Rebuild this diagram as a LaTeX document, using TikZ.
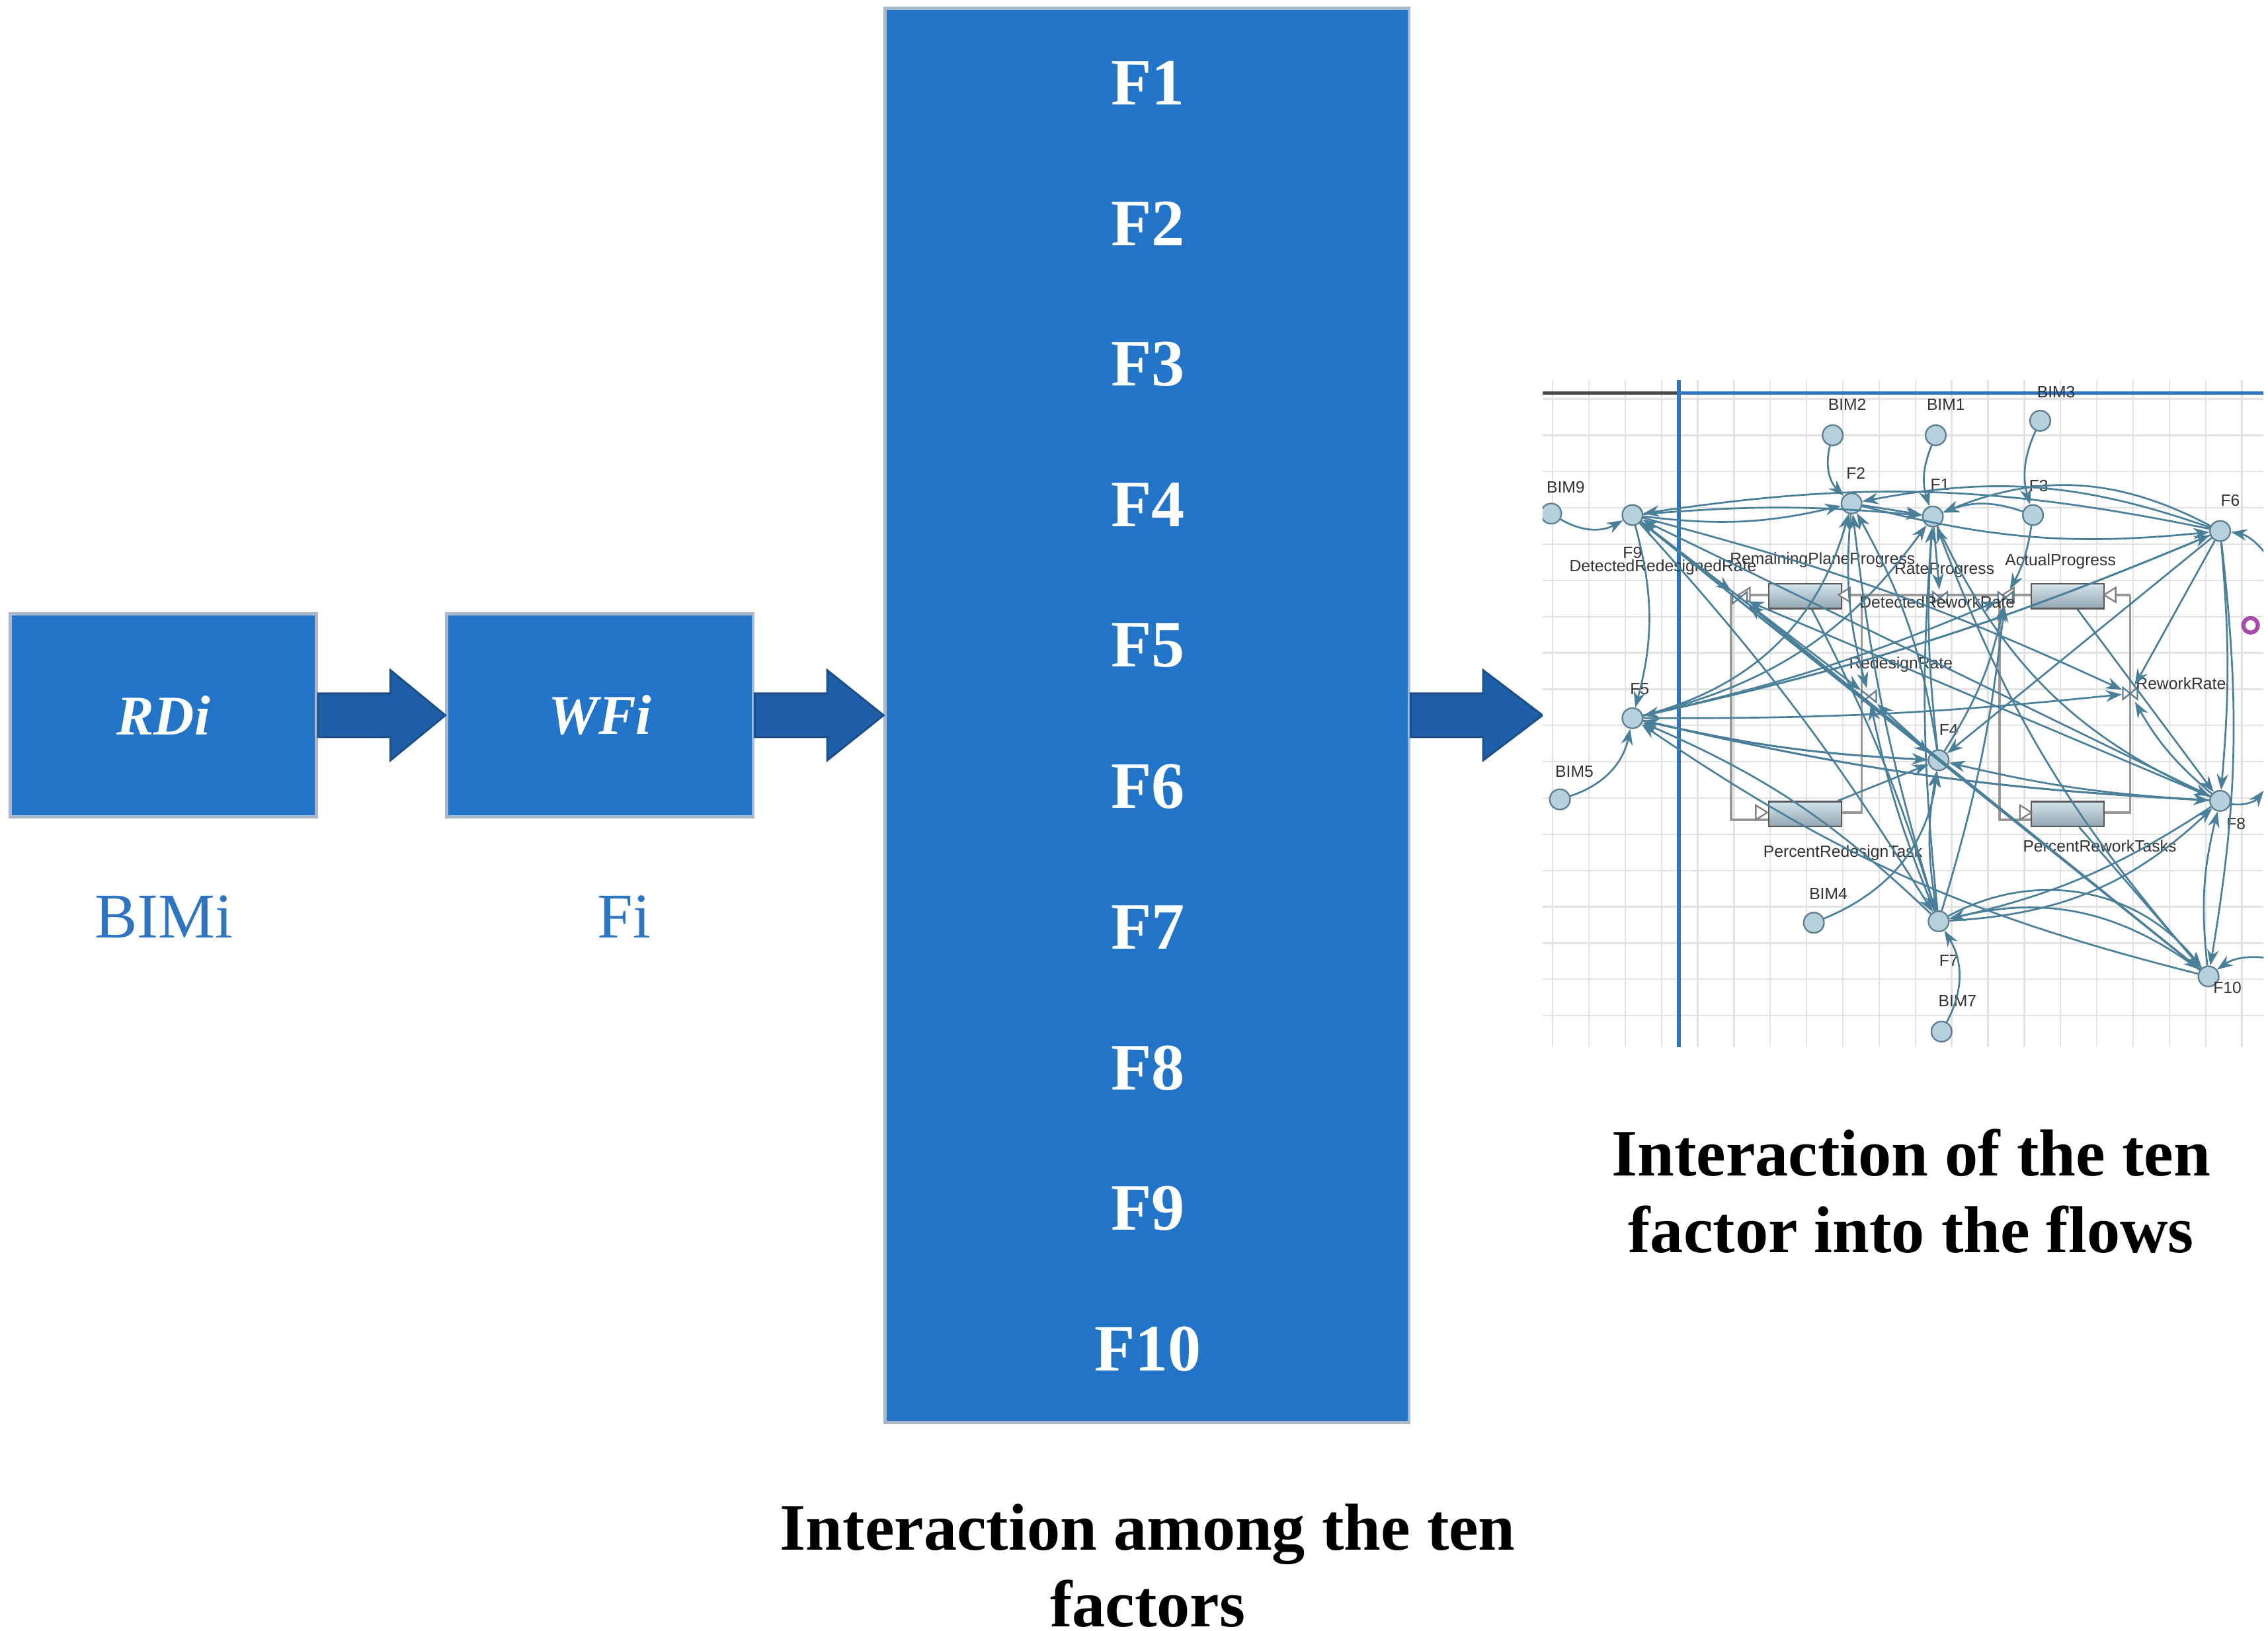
\documentclass[tikz,border=0pt]{standalone}
\usepackage{fontspec}
\setmainfont{Liberation Serif}
\setsansfont{Liberation Sans}
\usepackage{tikz}
\usetikzlibrary{calc,arrows.meta}
\definecolor{boxblue}{HTML}{2174C7}
\definecolor{boxedge}{HTML}{A8B8C8}
\definecolor{arrblue}{HTML}{1F5FA8}
\definecolor{arredge}{HTML}{1A4F8C}
\definecolor{lblblue}{HTML}{2E74C0}
\definecolor{sdline}{HTML}{4A7F99}
\definecolor{sdfill}{HTML}{B7D0DE}
\definecolor{sdedge}{HTML}{5E7E90}
\definecolor{gridc}{HTML}{E2E2E2}
\tikzset{
  bigbox/.style={draw=boxedge,fill=boxblue,line width=0.6pt,inner sep=0pt},
  ftxt/.style={text=white,font=\fontsize{13}{15}\selectfont\bfseries},
  itxt/.style={text=white,font=\fontsize{11}{13}\selectfont\bfseries\itshape},
  sub/.style={text=lblblue,font=\fontsize{12.5}{14}\selectfont},
  capt/.style={align=center,font=\fontsize{13}{16}\selectfont\bfseries},
  blockarr/.style={fill=arrblue,draw=arredge,line width=0.4pt},
  aux/.style={circle,draw=sdedge,fill=sdfill,minimum size=0.14cm,inner sep=0pt,line width=0.3pt},
  tiny/.style={font=\fontsize{3.2}{4}\selectfont\sffamily,text=black!80,inner sep=0pt},
  lk/.style={draw=sdline,line width=0.35pt,-{Stealth[length=1.1mm,width=0.8mm]}},
  stock/.style={draw=gray!70!black,top color=sdfill!60!white,bottom color=sdfill!80!black,minimum width=0.5cm,minimum height=0.17cm,inner sep=0pt,line width=0.3pt},
  pipe/.style={draw=gray!80,line width=0.5pt},
}
\begin{document}
\begin{tikzpicture}[x=0.01cm,y=-0.01cm]
\useasboundingbox (0,0) rectangle (1563,1124);
% left boxes
\node[bigbox,minimum width=2.11cm,minimum height=1.40cm] (rd) at (112.5,493) {};
\node[itxt] (rdt) at (rd.center) {RDi};
\node[bigbox,minimum width=2.11cm,minimum height=1.40cm] (wf) at (413.5,493) {};
\node[itxt] (wft) at (wf.center) {WFi};
\node[sub] (bimi) at (113,632) {BIMi};
\node[sub] (fi) at (430,632) {Fi};
% big box
\node[bigbox,minimum width=3.61cm,minimum height=9.74cm] (big) at (790.5,493) {};
\foreach \i [count=\k from 0] in {1,...,10}{
  \node[ftxt] (f\i) at (791,57+97*\k) {F\i};
}
% block arrows
\foreach \a/\b in {rd/wf,wf/big}{
  \path[blockarr] ($(\a.east)+(0,-15)$) -- ($(\a.east)+(50,-15)$) -- ($(\a.east)+(50,-31)$) -- (\b.west) -- ($(\a.east)+(50,31)$) -- ($(\a.east)+(50,15)$) -- ($(\a.east)+(0,15)$) -- cycle;
}
\coordinate (sdin) at (1063,493);
\path[blockarr] ($(big.east)+(0,-15)$) -- ($(big.east)+(50,-15)$) -- ($(big.east)+(50,-31)$) -- (sdin) -- ($(big.east)+(50,31)$) -- ($(big.east)+(50,15)$) -- ($(big.east)+(0,15)$) -- cycle;
% captions
\node[capt] (c1) at (791,1079) {Interaction among the ten\\[-1pt]factors};
\node[capt] (c2) at (1317,821) {Interaction of the ten\\[-1pt]factor into the flows};
% ===== screenshot =====
\begin{scope}
\clip (1063,262) rectangle (1560,722);
\fill[white] (1063,262) rectangle (1560,722);
\foreach \x in {1070,1095,...,1560} \draw[gridc,line width=0.3pt] (\x,262) -- (\x,722);
\foreach \y in {275,300,...,722} \draw[gridc,line width=0.3pt] (1063,\y) -- (1560,\y);
\draw[gray!60!black,line width=0.6pt] (1063,271) -- (1157,271);
\draw[lblblue,line width=0.7pt] (1157,271) -- (1560,271);
\draw[lblblue,line width=0.7pt] (1157,262) -- (1157,722);
% pipes
\draw[pipe] (1193,410) -- (1193,565) -- (1219,565);
\draw[pipe] (1283,410) -- (1283,560) -- (1269,560);
\draw[pipe] (1199,410) -- (1219,410);
\draw[pipe] (1269,410) -- (1400,410);
\draw[pipe] (1378,410) -- (1378,565) -- (1400,565);
\draw[pipe] (1468,410) -- (1468,560) -- (1450,560);
\draw[pipe] (1450,410) -- (1468,410);
\node[stock] (s1) at (1244,411) {};
\node[stock] (s2) at (1425,411) {};
\node[stock] (s3) at (1244,561) {};
\node[stock] (s4) at (1425,561) {};
\foreach \p in {(1204,410),(1386,410)} \draw[gray,fill=white,line width=0.3pt] \p ++(-6,0) -- ++(8,-5) -- ++(0,10) -- cycle;
\foreach \p in {(1273,410),(1456,410)} \draw[gray,fill=white,line width=0.3pt] \p ++(-6,0) -- ++(8,-5) -- ++(0,10) -- cycle;
\foreach \p in {(1210,560),(1392,560)} \draw[gray,fill=white,line width=0.3pt] \p ++(8,0) -- ++(-8,-5) -- ++(0,10) -- cycle;
% valves
\foreach \n/\p in {v1/{(1199,412)},v2/{(1382,412)},v3/{(1288,480)},v4/{(1468,478)},v5/{(1337,412)}}{
  \node[inner sep=0pt,minimum size=0.1cm] (\n) at \p {};
  \draw[sdedge,fill=white,line width=0.3pt] ($(\n)+(-5,-4)$) -- ($(\n)+(5,4)$) -- ($(\n)+(5,-4)$) -- ($(\n)+(-5,4)$) -- cycle;
}
% aux nodes
\foreach \n/\x/\y in {bim9/1069/354,ff9/1125/355,bim2/1263/300,ff2/1276/347,bim1/1334/300,ff1/1332/356,bim3/1406/290,ff3/1401/355,ff6/1530/366,ff5/1125/495,bim5/1075/551,ff4/1336/524,ff8/1530/552,bim4/1250/636,ff7/1336/635,bim7/1338/711,ff10/1522/673}
  \node[aux] (\n) at (\x,\y) {};
\node[circle,draw=violet!70,line width=0.8pt,minimum size=0.1cm,inner sep=0pt] (zz) at (1551,431) {};
% labels
\node[tiny] at (1079,336) {BIM9};
\node[tiny] at (1125,381) {F9};
\node[tiny] at (1146,391) {DetectedRedesignedRate};
\node[tiny] at (1256,386) {RemainingPlaneProgress};
\node[tiny] at (1273,279) {BIM2};
\node[tiny] at (1279,326) {F2};
\node[tiny] at (1341,279) {BIM1};
\node[tiny] at (1337,334) {F1};
\node[tiny] at (1417,270) {BIM3};
\node[tiny] at (1405,335) {F3};
\node[tiny] at (1537,345) {F6};
\node[tiny] at (1340,393) {RateProgress};
\node[tiny] at (1420,387) {ActualProgress};
\node[tiny] at (1335,415) {DetectedReworkRate};
\node[tiny] at (1310,458) {RedesignRate};
\node[tiny] at (1503,471) {ReworkRate};
\node[tiny] at (1130,475) {F5};
\node[tiny] at (1085,532) {BIM5};
\node[tiny] at (1343,503) {F4};
\node[tiny] at (1541,568) {F8};
\node[tiny] at (1270,588) {PercentRedesignTask};
\node[tiny] at (1447,583) {PercentReworkTasks};
\node[tiny] at (1260,616) {BIM4};
\node[tiny] at (1343,662) {F7};
\node[tiny] at (1349,690) {BIM7};
\node[tiny] at (1535,681) {F10};
% links
\foreach \a/\b/\ang in {bim9/ff9/-30,bim2/ff2/-30,bim1/ff1/-20,bim3/ff3/-20,bim5/ff5/-30,bim7/ff7/-30,bim4/ff4/-30,
 ff9/ff2/-10,ff9/ff1/5,ff9/ff5/15,ff9/ff4/0,ff9/ff7/5,ff9/ff10/0,ff9/v1/0,ff9/v4/5,ff9/v3/0,
 ff5/ff4/-5,ff5/ff8/-5,ff5/ff6/-5,ff5/ff2/-30,ff5/v2/-5,ff5/ff1/-20,ff5/v4/-3,
 ff8/ff5/5,ff8/ff7/10,ff8/ff4/5,ff8/ff9/0,ff8/v4/10,ff8/v1/0,
 ff6/ff2/-15,ff6/ff1/-25,ff6/ff5/5,ff6/ff8/5,ff6/ff10/8,ff6/v4/0,ff6/ff4/0,ff6/ff9/-10,
 ff10/ff5/10,ff10/ff9/0,ff10/ff7/-25,ff10/ff1/10,ff10/v1/0,ff10/ff8/10,
 ff4/ff1/5,ff4/ff2/-10,ff4/ff5/5,ff4/ff10/0,ff4/v3/0,ff4/v2/-10,ff4/v1/0,
 ff7/ff1/5,ff7/ff4/10,ff7/ff10/40,ff7/ff2/5,ff7/ff5/-10,ff7/v3/5,ff7/v2/-5,
 ff3/ff1/-20,ff2/ff1/0,ff1/v5/0,ff3/v2/10,ff2/v3/-10,ff1/ff8/-20,ff2/ff6/-10,
 s3/ff4/0,s1/ff7/5,s4/ff10/0,s2/ff8/0}
  \draw[lk] (\a) to[bend left=\ang] (\b);
\draw[lk] (ff7) to[bend left=-20] (ff8);
\draw[lk] (ff8) to[bend left=-30] (1560,545);
\draw[lk] (1560,380) to[bend left=-20] (ff6);
\draw[lk] (1560,660) to[bend left=-20] (ff10);
\end{scope}
\end{tikzpicture}
\end{document}
